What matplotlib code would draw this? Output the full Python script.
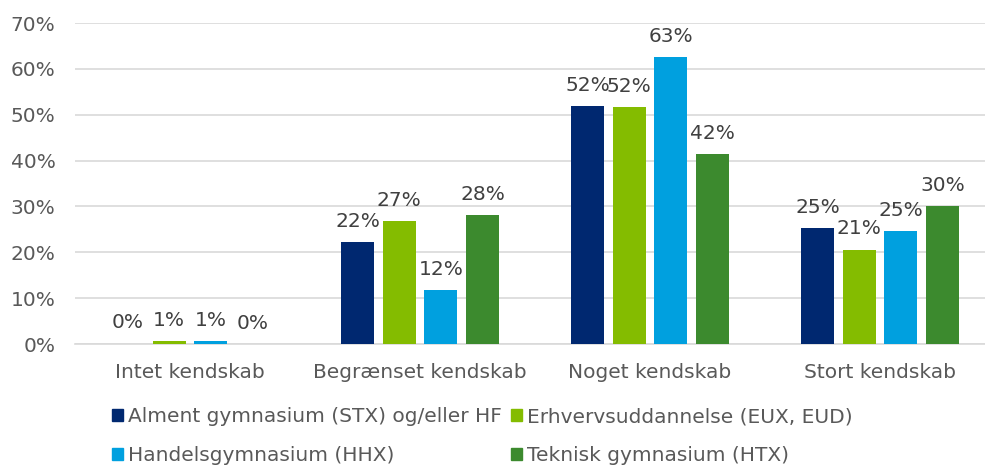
import numpy as np
import matplotlib.pyplot as plt
from matplotlib.patches import Patch

# data
categories = ["Intet kendskab", "Begrænset kendskab", "Noget kendskab", "Stort kendskab"]
series = ["Alment gymnasium (STX) og/eller HF", "Erhvervsuddannelse (EUX, EUD)",
          "Handelsgymnasium (HHX)", "Teknisk gymnasium (HTX)"]
stx = [0.1, 22.2, 51.8, 25.2]
eud = [0.6, 26.9, 51.6, 20.6]
hhx = [0.6, 11.7, 62.6, 24.7]
htx = [0.0, 28.1, 41.4, 30.0]
labels = [["0%", "22%", "52%", "25%"],
          ["1%", "27%", "52%", "21%"],
          ["1%", "12%", "63%", "25%"],
          ["0%", "28%", "42%", "30%"]]
colors = ["#002870", "#84BC00", "#00A0DF", "#3C8A2E"]

plt.rcParams['font.family'] = ['DejaVu Sans']
fig = plt.figure(figsize=(9.85, 4.65), dpi=100)
# plot area in pixels: left 75, width 920, bottom 344 from top, top 23
ax = fig.add_axes([75/985, 1 - 344/465, 920/985, (344 - 23)/465])

x = np.arange(len(categories))
pitch = 0.181
width = 0.143
for i, vals in enumerate([stx, eud, hhx, htx]):
    bars = ax.bar(x + (i - 1.5) * pitch, vals, width, color=colors[i], zorder=3)
    ax.bar_label(bars, labels=labels[i], padding=8, fontsize=14.5, color="#404040")

ax.set_xlim(-0.5, 3.5)
ax.set_ylim(0, 70)
ax.set_yticks(np.arange(0, 71, 10))
ax.set_yticklabels([f"{v}%" for v in range(0, 71, 10)])
ax.set_xticks(x)
ax.set_xticklabels(categories)
ax.tick_params(axis='both', length=0, labelsize=14.5, labelcolor="#595959")
ax.tick_params(axis='y', pad=14)
ax.tick_params(axis='x', pad=14)
ax.yaxis.grid(True, color="#D9D9D9", linewidth=1.2, zorder=0)
for s in ["top", "right", "left"]:
    ax.spines[s].set_visible(False)
ax.spines["bottom"].set_color("#D9D9D9")
ax.spines["bottom"].set_linewidth(1.2)

# legend filled row by row: reorder for column-wise filling
order = [0, 2, 1, 3]
handles = [Patch(color=colors[k]) for k in order]
fig.legend(handles, [series[k] for k in order], loc="upper left",
           bbox_to_anchor=(112/985, 1 - 407/465),
           ncol=2, frameon=False, fontsize=14.5,
           labelcolor="#595959",
           handlelength=0.55, handleheight=0.55, handletextpad=0.25,
           columnspacing=0.45, labelspacing=1.0, borderpad=0,
           borderaxespad=0)

fig.savefig("out.png", dpi=100)
